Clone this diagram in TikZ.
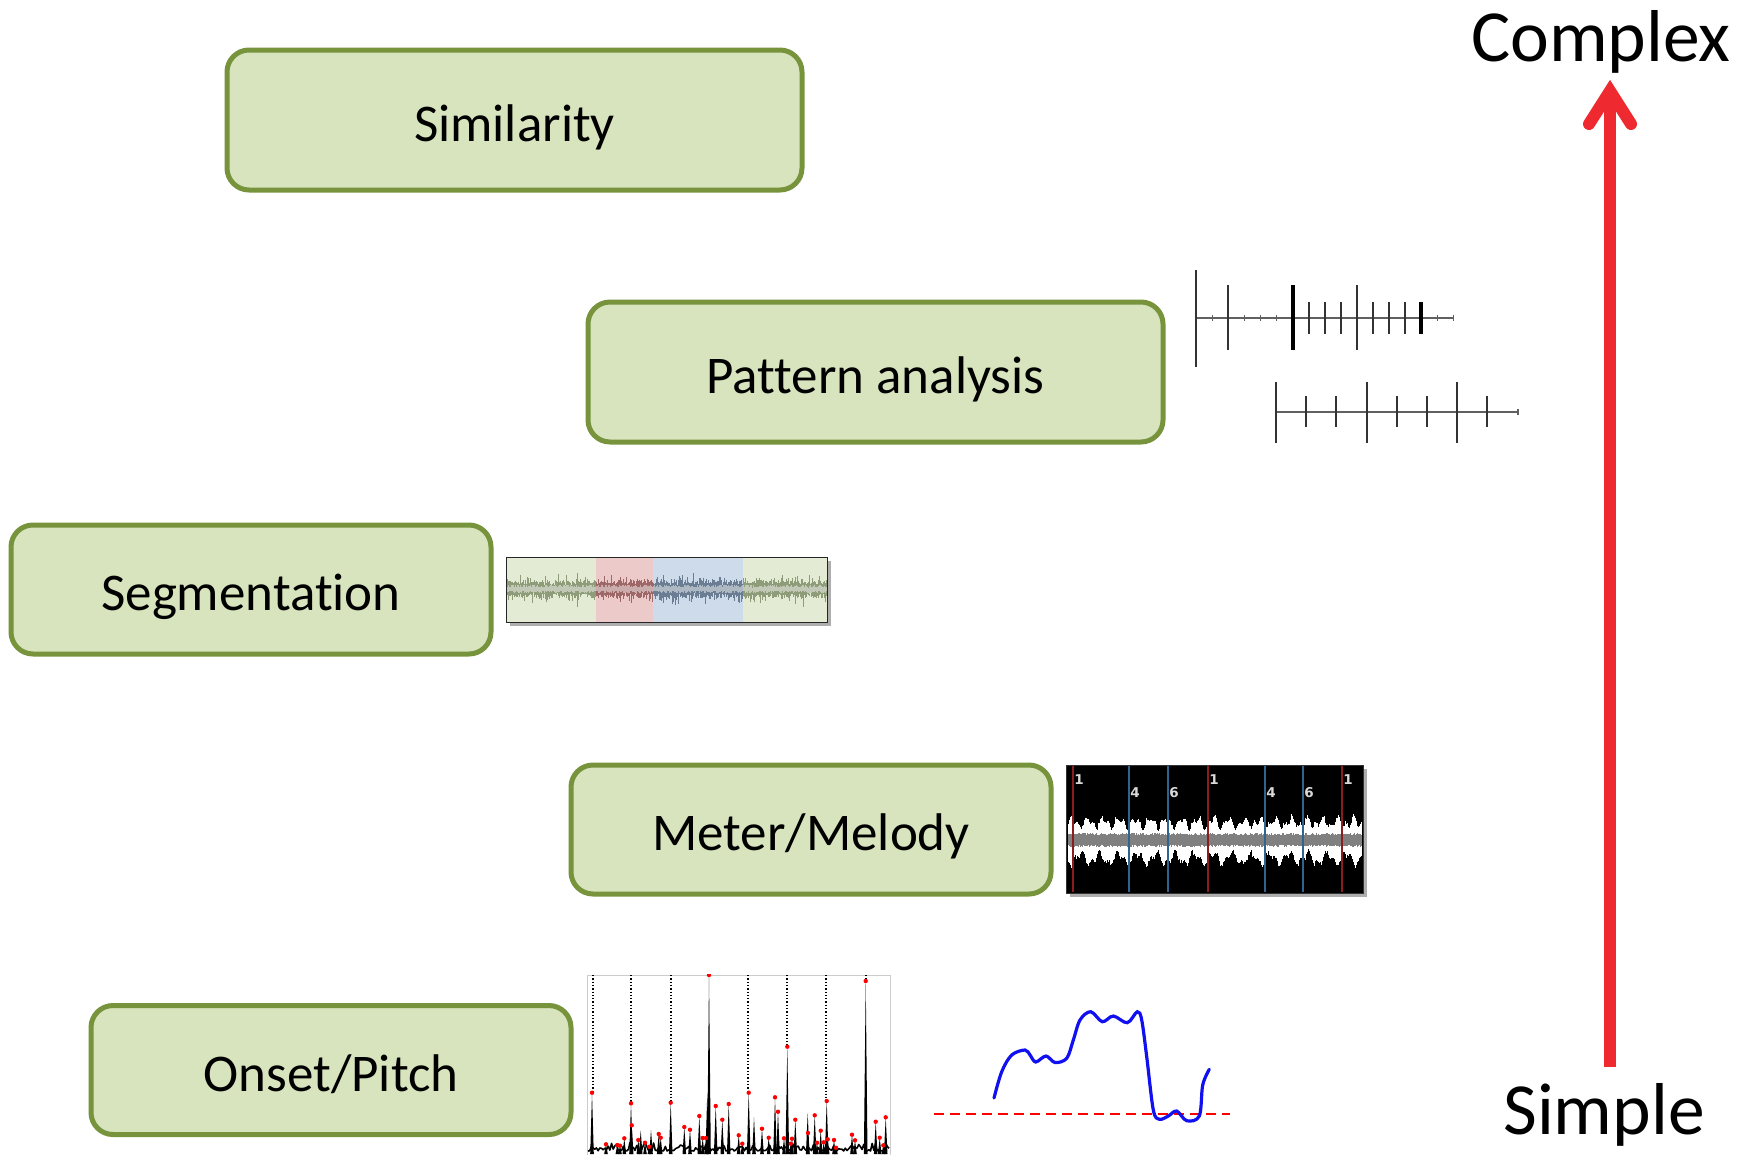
\documentclass[tikz,border=0pt]{standalone}
\usepackage{fontspec}
\setmainfont{Carlito}[Ligatures=NoCommon]
\newfontfamily\beatfont{DejaVu Sans}
\usetikzlibrary{shadows}
\definecolor{boxfill}{HTML}{D7E4BD}
\definecolor{boxline}{HTML}{77933C}
\definecolor{arrowred}{HTML}{EE2A30}
\definecolor{seggreen}{HTML}{E3EBD4}
\definecolor{segred}{HTML}{EDCACA}
\definecolor{segblue}{HTML}{CDDBEB}
\definecolor{wavegreen}{HTML}{8E9C7A}
\definecolor{wavered}{HTML}{9E6868}
\definecolor{waveblue}{HTML}{6B7D92}
\definecolor{beatred}{HTML}{8E1C1C}
\definecolor{beatblue}{HTML}{2F6490}
\definecolor{pitchblue}{HTML}{1010F0}

% one vertical stroke per column of a waveform: #1 from, #2 to, #3 colour
\newcommand\segwave[3]{%
  \foreach \x in {#1,...,#2} {%
    \pgfmathsetmacro\up{4+12*rnd*rnd*rnd+5*rnd}%
    \pgfmathsetmacro\dn{4+12*rnd*rnd*rnd+5*rnd}%
    \pgfmathsetmacro\iu{1.5+3*rnd}%
    \pgfmathsetmacro\id{1.5+3*rnd}%
    \draw[#3, line width=0.9pt] (\x,589-\up) -- (\x,589+\dn);
    \draw[#3!55, line width=0.9pt] (\x,589-\iu) -- (\x,589+\id);
  }}

\begin{document}
\begin{tikzpicture}[x=1pt,y=-1pt,
  stage/.style={draw=boxline, line width=5pt, fill=boxfill,
    rounded corners=22pt, inner sep=0pt, text height=42pt, text depth=0pt,
    font=\fontsize{53}{60}\selectfont},
  widebox/.style={stage, minimum width=575pt, minimum height=140pt},
  narrowbox/.style={stage, minimum width=480pt, minimum height=129pt},
  endlabel/.style={font=\fontsize{73.5}{80}\selectfont, inner sep=0pt, anchor=base},
  tickaxis/.style={draw=gray!75!black, line width=1.5pt},
  smalltick/.style={draw=gray!75!black, line width=1.2pt},
  tick/.style={draw=black!80, line width=2pt},
  boldtick/.style={draw=black, line width=4pt},
  beatlabel/.style={text=white!85!black, font=\beatfont\bfseries\fontsize{13.5}{14}\selectfont, inner sep=0pt},
  onsetdot/.style={fill=red},
  picshadow/.style={drop shadow={shadow xshift=4pt, shadow yshift=-4pt, opacity=0.45, fill=black!70}}
]
\useasboundingbox (0,0) rectangle (1752,1154);

% ---- stage boxes ----
\node[widebox] (similarity) at (514.5,120) {Similarity};
\node[widebox] (pattern) at (875.5,372) {Pattern analysis};
\node[narrowbox] (segmentation) at (251,589.5) {Segmentation};
\node[narrowbox] (meter) at (811,829.5) {Meter/Melody};
\node[narrowbox] (onset) at (331,1070) {Onset/Pitch};

% ---- complexity scale ----
\node[endlabel] (complex) at (1601,61.5) {Complex};
\node[endlabel] (simple) at (1604,1134) {Simple};
\coordinate (scalelow) at (1610,1067);
\coordinate (scalehigh) at (1610,100);
\draw[arrowred, line width=12pt] (scalelow) -- (scalehigh);
\draw[arrowred, line width=12pt, line cap=round, line join=miter]
  (1589,124) -- (1610,91) -- (1631,124);

% ---- rhythm patterns ----
\draw[tickaxis] (1196,318) -- (1454,318);
\foreach \k in {1,3,4,5,15,16}
  \draw[smalltick] (1196+16.1*\k,315) -- (1196+16.1*\k,321);
\draw[tick] (1196,270) -- (1196,367);
\foreach \k in {2,10}
  \draw[tick] (1196+16.1*\k,285) -- (1196+16.1*\k,350);
\draw[boldtick] (1196+16.1*6,285) -- (1196+16.1*6,350);
\foreach \k in {7,8,9,11,12,13}
  \draw[tick] (1196+16.1*\k,302) -- (1196+16.1*\k,334);
\draw[boldtick] (1196+16.1*14,302) -- (1196+16.1*14,334);

\draw[tickaxis] (1276,412) -- (1518,412);
\draw[smalltick] (1518,409) -- (1518,415);
\foreach \k in {0,3,6}
  \draw[tick] (1276+30.2*\k,382) -- (1276+30.2*\k,443);
\foreach \k in {1,2,4,5,7}
  \draw[tick] (1276+30.2*\k,396) -- (1276+30.2*\k,427);

% ---- segmented waveform ----
\pgfmathsetseed{11}
\fill[picshadow, fill=seggreen] (506,557) rectangle (827,622);
\fill[segred] (596,557) rectangle (653,622);
\fill[segblue] (653,557) rectangle (743,622);
\segwave{507}{595}{wavegreen}
\segwave{596}{652}{wavered}
\segwave{653}{742}{waveblue}
\segwave{743}{826}{wavegreen}
\draw[black!85, line width=1pt] (506,557) rectangle (827,622);

% ---- beat-annotated waveform ----
\fill[picshadow, fill=black] (1066,765) rectangle (1363,893);
\foreach \i in {0,...,293} {
  \pgfmathsetmacro\up{16+4*sin(\i*23)+3*sin(\i*47)+5*rnd*rnd}
  \pgfmathsetmacro\dn{17+5*sin(\i*19+40)+3*sin(\i*43)+6*rnd*rnd}
  \pgfmathsetmacro\gu{5+2*rnd}
  \pgfmathsetmacro\gd{5+2*rnd}
  \draw[white, line width=1pt] (1068+\i,840-\up) -- (1068+\i,840+\dn);
  \draw[gray, line width=1pt] (1068+\i,840-\gu) -- (1068+\i,840+\gd);
}
\foreach \x in {1073,1208,1342}
  \draw[beatred, line width=1.4pt] (\x,766) -- (\x,892);
\foreach \x in {1129,1168,1265,1303}
  \draw[beatblue, line width=1.4pt] (\x,766) -- (\x,892);
\node[beatlabel] (b1) at (1079,780) {1};
\node[beatlabel] (b4) at (1135,793) {4};
\node[beatlabel] (b6) at (1174,793) {6};
\node[beatlabel] (b1b) at (1214,780) {1};
\node[beatlabel] (b4b) at (1271,793) {4};
\node[beatlabel] (b6b) at (1309,793) {6};
\node[beatlabel] (b1c) at (1348,780) {1};
\draw[black!80, line width=1pt] (1066,765) rectangle (1363,893);

% ---- onset detection function ----
\begin{scope}
\clip (586,974) rectangle (891,1154);
\draw[gray!40, line width=1pt] (587,975) rectangle (890,1170);
\foreach \x/\y in {593/1093,631/1103,671/1103,748/1093,787/1047,826/1101,866/981}
  \draw[black, line width=1.3pt, dotted] (\x,975) -- (\x,\y);
\pgfmathsetseed{5}
\draw[black, line width=1.6pt, line join=round]
  plot[domain=588:889, samples=180] (\x,{1151-10*rnd*rnd});
\foreach \x/\y in {592/1092.7,606/1144.3,617.3/1145,620/1145.7,624.3/1138.3,
    631/1103.3,631.7/1125.3,638.3/1140,640.7/1130.7,645/1142.7,649.3/1146.7,651/1130,
    658.7/1134,660.7/1137.7,670.7/1102.7,684.3/1127,690/1129.7,699.3/1116,
    702.7/1138,706/1138,707.3/1091.7,709/975,715.7/1106,722.3/1119.7,728.7/1104,
    738.7/1135.3,742.3/1143.7,748.7/1092.7,754/1117.3,762/1128.7,768.7/1137.7,
    775/1097.3,778/1111.7,784/1138.3,787.3/1046.7,790.7/1143.7,792/1138.7,
    795.3/1119.7,807.7/1113.3,808/1133,814.7/1115.3,817/1142.7,820.7/1130.7,
    823.7/1142.3,826.7/1101,827.7/1139.3,834/1140,836/1147.7,852/1134.7,
    855/1140.3,865.7/981,875.7/1121.7,879.7/1137.7,883.3/1145.3,885.7/1117.3}
  \fill[black] (\x-1.8,1154) -- (\x,\y) -- (\x+1.8,1154) -- cycle;
\foreach \x/\y in {592/1092.7,606/1144.3,617.3/1145,620/1145.7,624.3/1138.3,
    631/1103.3,631.7/1125.3,638.3/1140,645/1142.7,649.3/1146.7,
    658.7/1134,660.7/1137.7,670.7/1102.7,684.3/1127,690/1129.7,699.3/1116,
    702.7/1138,706/1138,709/975,715.7/1106,722.3/1119.7,728.7/1104,
    738.7/1135.3,742.3/1143.7,748.7/1092.7,762/1128.7,768.7/1137.7,
    775/1097.3,778/1111.7,784/1138.3,787.3/1046.7,790.7/1143.7,792/1138.7,
    795.3/1119.7,808/1133,814.7/1115.3,817/1142.7,820.7/1130.7,
    823.7/1142.3,826.7/1101,827.7/1139.3,834/1140,836/1147.7,852/1134.7,
    855/1140.3,865.7/981,875.7/1121.7,879.7/1137.7,883.3/1145.3,885.7/1117.3}
  \fill[onsetdot] (\x,\y) circle (2.2pt);
\end{scope}

% ---- pitch contour ----
\draw[red, line width=2pt, dash pattern=on 10pt off 6pt] (934,1114) -- (1230,1114);
\draw[pitchblue, line width=3.2pt, line cap=round] plot[smooth, tension=0.55] coordinates {
  (994,1098) (1001.7,1071.7) (1011.7,1055) (1025,1050) (1030,1055) (1035.7,1062)
  (1046,1056) (1055,1062.5) (1066.7,1058.3) (1073.3,1040) (1080,1020) (1090.7,1011.7)
  (1102.3,1021.7) (1113.3,1016) (1127.3,1022.7) (1137.3,1011.7) (1141.7,1020)
  (1146.7,1056.7) (1153.3,1110) (1159.3,1119.3) (1168.3,1116) (1176.7,1111)
  (1186.7,1120.7) (1199.3,1116) (1202.7,1085) (1209.3,1069.3)};
\end{tikzpicture}
\end{document}
